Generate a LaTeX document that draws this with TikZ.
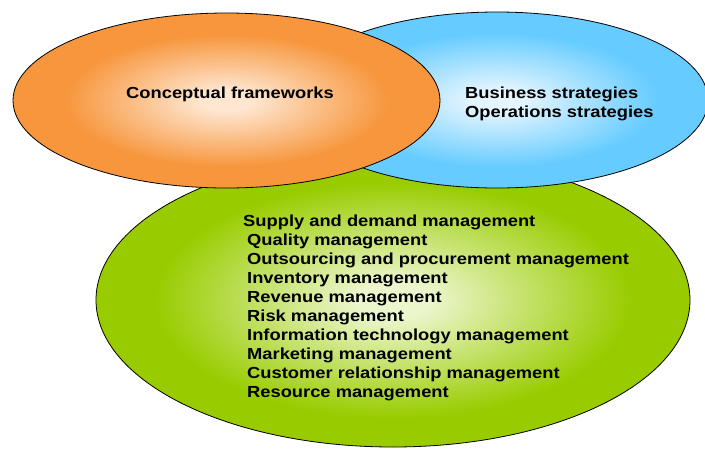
\documentclass[tikz,border=0pt]{standalone}
\usepackage{fontspec}
\setmainfont{Liberation Sans}[FakeStretch=1.145]
\usetikzlibrary{shapes.geometric}
\definecolor{orangeout}{RGB}{247,150,60}
\definecolor{orangein}{RGB}{254,230,208}
\definecolor{blueout}{RGB}{102,204,255}
\definecolor{bluein}{RGB}{228,245,255}
\definecolor{greenout}{RGB}{153,204,0}
\definecolor{greenin}{RGB}{236,246,205}
\pgfdeclareradialshading{orangeshade}{\pgfpoint{0bp}{0bp}}{color(0bp)=(orangein); color(3bp)=(orangein); color(19bp)=(orangeout); color(50bp)=(orangeout)}
\pgfdeclareradialshading{blueshade}{\pgfpoint{0bp}{0bp}}{color(0bp)=(bluein); color(3bp)=(bluein); color(19bp)=(blueout); color(50bp)=(blueout)}
\pgfdeclareradialshading{greenshade}{\pgfpoint{0bp}{0bp}}{color(0bp)=(greenin); color(3bp)=(greenin); color(20bp)=(greenout); color(50bp)=(greenout)}
\tikzset{
  blob/.style={ellipse, draw=black, line width=0.8pt, inner sep=0pt},
  lbl/.style={inner sep=0pt, anchor=base west, font=\bfseries\fontsize{16}{19.1}\selectfont},
}
\begin{document}
\begin{tikzpicture}[x=1pt,y=-1pt]
\fill[white] (0,0) rectangle (705,448);
\useasboundingbox (0,0) rectangle (705,448);
\clip (0,0) rectangle (705,448);
\node[blob, shading=greenshade, minimum width=594pt, minimum height=294pt] (green) at (393,300) {};
\node[blob, shading=blueshade, minimum width=422pt, minimum height=176pt] (blue) at (497,100) {};
\node[blob, shading=orangeshade, minimum width=427pt, minimum height=175pt] (orange) at (226.5,100.5) {};
\node[lbl] (conc) at (126,98) {Conceptual frameworks};
\node[lbl] (bus) at (465,98) {Business strategies};
\node[lbl] (ops) at (465,117) {Operations strategies};
\node[lbl] (l1) at (243,226) {Supply and demand management};
\node[lbl] (l2) at (247,245.1) {Quality management};
\node[lbl] (l3) at (247,264.2) {Outsourcing and procurement management};
\node[lbl] (l4) at (247,283.3) {Inventory management};
\node[lbl] (l5) at (247,302.4) {Revenue management};
\node[lbl] (l6) at (247,321.5) {Risk management};
\node[lbl] (l7) at (247,340.6) {Information technology management};
\node[lbl] (l8) at (247,359.7) {Marketing management};
\node[lbl] (l9) at (247,378.8) {Customer relationship management};
\node[lbl] (l10) at (247,397.9) {Resource management};
\end{tikzpicture}
\end{document}
